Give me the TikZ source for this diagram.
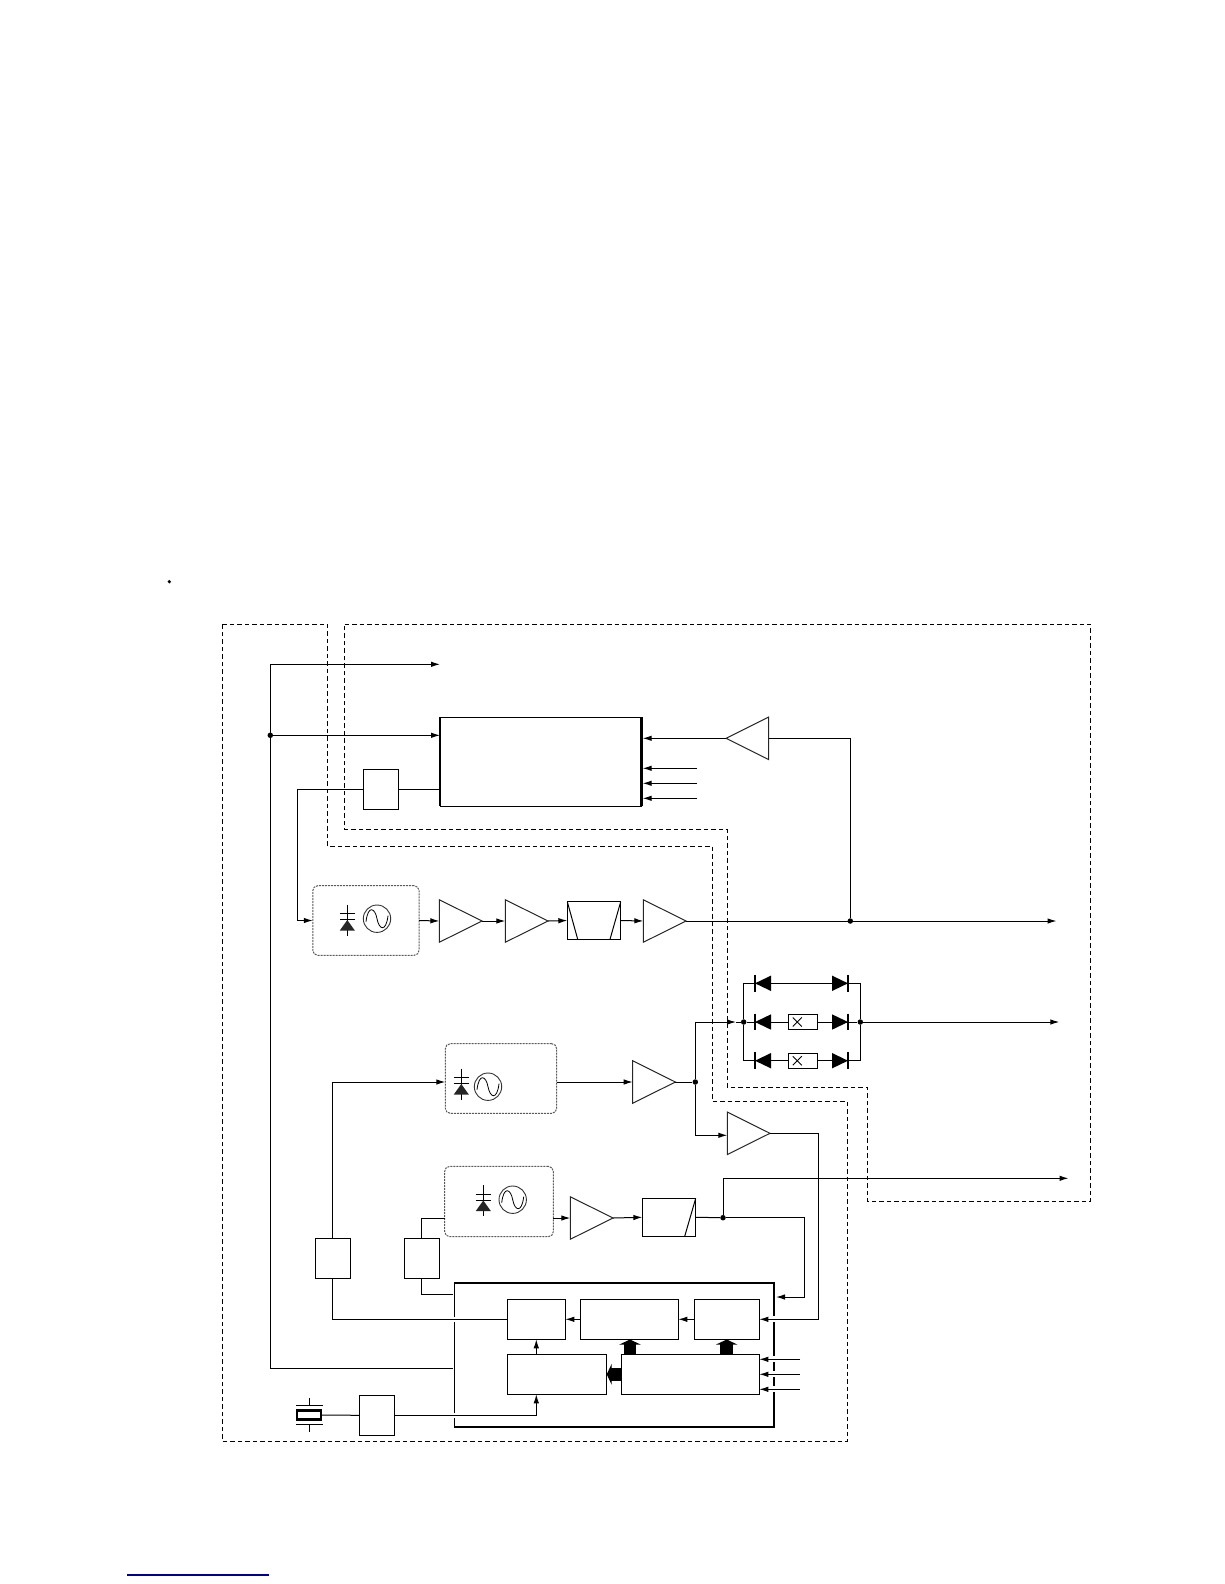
\documentclass[tikz,border=0pt]{standalone}
\usetikzlibrary{arrows.meta,shapes.geometric}

\tikzset{
    wire/.style={line width=1pt},
    sig/.style={wire, -{Latex[length=9pt,width=5.5pt]}},
    padsig/.style={sig, shorten >=1.3pt},
    region/.style={line width=0.9pt, dash pattern=on 4.5pt off 3pt},
    blockbox/.style={draw, line width=1pt, inner sep=0pt, outer sep=0pt},
    vcobox/.style={draw=black!65, line width=1pt, dash pattern=on 2pt off 1pt, rounded corners=5pt, inner sep=0pt, outer sep=0pt},
    ampr/.style={draw=black!85, line width=1pt, shape=isosceles triangle, isosceles triangle apex angle=53,
        isosceles triangle stretches, minimum width=42.5pt, minimum height=42.7pt, inner sep=0pt, outer sep=0pt, anchor=lower side},
    ampl/.style={ampr, shape border rotate=180},
    joint/.style={circle, fill, inner sep=0pt, minimum size=5.5pt},
    fatup/.style={line width=12.5pt, -{Triangle[length=5pt,width=21pt]}},
    varactor/.pic={
        \draw[line width=0.9pt] (0,-15) -- (0,16);
        \draw[line width=0.9pt] (-7.5,-6) -- (7.5,-6);
        \draw[line width=0.9pt] (-7.5,0) -- (7.5,0);
        \fill[black!85] (0,0.5) -- (7.5,11) -- (-7.5,11) -- cycle;
    },
    sinewave/.pic={
        \draw[line width=0.9pt, black!80] (0,0) circle (13.7pt);
        \draw[line width=0.8pt] (-11,3) .. controls (-9,-14) and (-2,-11) .. (0,0) .. controls (2,11) and (9,14) .. (11,-3);
    },
    diodel/.pic={
        \fill (0,0) -- (16,-7.7) -- (16,7.7) -- cycle;
        \draw[line width=1.3pt] (0,-8.3) -- (0,8.3);
    },
    dioder/.pic={
        \fill (0,0) -- (-16,-7.7) -- (-16,7.7) -- cycle;
        \draw[line width=1.3pt] (0,-8.3) -- (0,8.3);
    },
    crossbox/.pic={
        \draw[line width=0.9pt] (-4.5,-4.5) -- (4.5,4.5);
        \draw[line width=0.9pt] (-4.5,4.5) -- (4.5,-4.5);
    },
}

\begin{document}
\begin{tikzpicture}[x=1pt, y=-1pt]
    \useasboundingbox (0,0) rectangle (1224,1584);

    \def\yta{921};
    \def\ydb{1022};
    \def\ydt{983.3};
    \def\yds{1060.7};
    \def\xdl{755};
    \def\xdr{848};

    \fill (169.3,581.7) circle (1.8pt);
    \draw[line width=1.2pt, blue!60!black] (127.3,1575) -- (269,1575);

% shield outlines

    \draw[region] (222.3,624.3) -- (327.7,624.3) -- (327.7,846.3) -- (712.3,846.3) -- (712.3,1101.3)
        -- (847.3,1101.3) -- (847.3,1441.5) -- (222.3,1441.5) -- cycle;
    \draw[region] (344.7,624.3) -- (1090.7,624.3) -- (1090.7,1201.3) -- (867.3,1201.3) -- (867.3,1087.3)
        -- (727.3,1087.3) -- (727.3,829.3) -- (344.7,829.3) -- cycle;

% upper row

    \node[blockbox, minimum width=201.3pt, minimum height=89pt] (pll) at (540.7,761.8) {};
    \draw[line width=2pt] (pll.north west) -- (pll.south west);
    \draw[line width=2.6pt] (pll.north east) -- (pll.south east);
    \node[blockbox, minimum width=35.4pt, minimum height=40pt] (lpf) at (381,789.3) {};
    \node[ampl] (bufl) at (768.7,738.3) {};

    \coordinate (toptap) at (440,664.3);
    \coordinate (trunkend) at (452.7,1368.3);
    \node[joint] (jtrunk) at (270.3,735.3) {};
    \draw[sig] (trunkend) -| (270.3,664.3) -- (toptap);
    \draw[sig] (jtrunk) -- (jtrunk -| pll.west);
    \draw[wire] (lpf.east) -- (pll.west |- lpf.east);

    \coordinate (pina) at (696.7,768.3);
    \coordinate (pinb) at (696.7,783.3);
    \coordinate (pinc) at (696.7,798.3);
    \draw[padsig] (pina) -- (pina -| pll.east);
    \draw[padsig] (pinb) -- (pinb -| pll.east);
    \draw[padsig] (pinc) -- (pinc -| pll.east);

% transmit chain

    \node[vcobox, minimum width=106.3pt, minimum height=69.6pt] (vcoa) at (365.9,920.5) {};
    \pic at (347.3,919.5) {varactor};
    \pic at (377,918.7) {sinewave};
    \node[ampr] (ampa) at (439.3,\yta) {};
    \node[ampr] (ampb) at (505.3,\yta) {};
    \node[blockbox, minimum width=53.4pt, minimum height=37.6pt] (bpf) at (594,920.5) {};
    \draw[wire] (bpf.north west) -- (577.7,939.3);
    \draw[wire] (bpf.north east) -- (610,939.3);
    \node[ampr] (ampc) at (643.3,\yta) {};
    \node[joint] (jtx) at (850.3,\yta) {};
    \coordinate (txout) at (1056.5,\yta);

    \draw[sig] (lpf.west) -- (297.7,789.3) |- (vcoa.west);
    \draw[sig] (vcoa.east) -- (ampa.lower side);
    \draw[sig] (ampa.apex) -- (ampb.lower side);
    \draw[sig] (ampb.apex) -- (bpf.west);
    \draw[sig] (bpf.east) -- (ampc.lower side);
    \draw[sig] (ampc.apex) -- (txout);
    \draw[wire] (jtx) |- (bufl.lower side);
    \draw[padsig] (bufl.apex) -- (pll.east |- bufl.apex);

% switch network

    \node[joint] (jswl) at (743.7,\ydb) {};
    \node[joint] (jswr) at (860.3,\ydb) {};
    \draw[wire] (jswl) |- (\xdl,\ydt) -- (\xdr,\ydt) -| (jswr);
    \draw[wire] (jswl) |- (\xdl,\yds) -- (\xdr,\yds) -| (jswr);
    \draw[wire] (jswl) -- (jswr);
    \node[blockbox, fill=white, minimum width=29pt, minimum height=15.4pt] (swa) at (802.8,\ydb) {};
    \node[blockbox, fill=white, minimum width=29pt, minimum height=15.4pt] (swb) at (802.8,\yds) {};
    \pic at (797.3,\ydb) {crossbox};
    \pic at (797.3,\yds) {crossbox};
    \pic at (\xdl,\ydt) {diodel};
    \pic at (\xdl,\ydb) {diodel};
    \pic at (\xdl,\yds) {diodel};
    \pic at (\xdr,\ydt) {dioder};
    \pic at (\xdr,\ydb) {dioder};
    \pic at (\xdr,\yds) {dioder};
    \coordinate (swout) at (1059.3,\ydb);
    \coordinate (swtap) at (736,\ydb);
    \draw[sig] (jswr) -- (swout);

% receive oscillator

    \node[vcobox, minimum width=111.4pt, minimum height=69.6pt] (vcob) at (501,1078.5) {};
    \pic at (461.3,1083.5) {varactor};
    \pic at (488,1086.7) {sinewave};
    \node[ampr] (ampd) at (632.7,1082) {};
    \node[ampr] (ampe) at (727.3,1133.3) {};
    \node[joint] (jrx) at (695.3,1082) {};
    \coordinate (vcobout) at (556.7,1082);
    \coordinate (ampein) at (727.3,1135.3);

    \draw[sig] (vcobout) -- (ampd.lower side);
    \draw[wire] (ampd.apex) -- (jrx);
    \draw[sig] (jrx) |- (swtap);
    \draw[wire] (swtap) -- (jswl);
    \draw[sig] (jrx) |- (ampein);

% third oscillator

    \node[vcobox, minimum width=108.6pt, minimum height=70.4pt] (vcoc) at (499,1201.5) {};
    \pic at (483.3,1200) {varactor};
    \pic at (512.7,1199.7) {sinewave};
    \node[ampr] (ampf) at (570.3,1218) {};
    \node[blockbox, minimum width=53.4pt, minimum height=38pt] (hpf) at (669,1217.3) {};
    \draw[wire] (hpf.north east) -- (684.7,1236.3);
    \node[joint] (jlo) at (723,1217.7) {};
    \coordinate (vcocin) at (444.7,1218.3);
    \coordinate (vcocout) at (553.3,1218);
    \coordinate (loout) at (1068.5,1178.3);

    \draw[sig] (vcocout) -- (ampf.lower side);
    \draw[sig] (ampf.apex) -- (hpf.west);
    \draw[sig] (jlo) |- (loout);

% loop filters

    \node[blockbox, minimum width=35pt, minimum height=40pt] (lpfa) at (332.8,1258.3) {};
    \node[blockbox, minimum width=35pt, minimum height=40pt] (lpfb) at (421.8,1258.3) {};
    \draw[sig] (lpfa.north) |- (445.3,1082);
    \draw[wire] (lpfb.north) |- (vcocin);

% synthesizer chip

    \node[blockbox, minimum width=319.7pt, minimum height=143.7pt] (chip) at (614.2,1354.9) {};
    \draw[line width=2.2pt] (chip.north west) -- (chip.north east) -- (chip.south east) -- (chip.south west);
    \foreach \yg in {1319.3,1359.3,1374.3,1389.3}
        \draw[white, line width=6pt] (772,\yg) -- (776,\yg);
    \foreach \yg in {1319.3,1415}
        \draw[white, line width=5pt] (452.5,\yg) -- (456.5,\yg);

    \node[blockbox, minimum width=58pt, minimum height=40pt] (cntr) at (536.3,1319.3) {};
    \node[blockbox, minimum width=98pt, minimum height=40pt] (cntn) at (629.3,1319.3) {};
    \node[blockbox, minimum width=65pt, minimum height=40pt] (pres) at (726.8,1319.3) {};
    \node[blockbox, minimum width=99.4pt, minimum height=40pt] (refc) at (557,1374.3) {};
    \node[blockbox, minimum width=138pt, minimum height=40pt] (regs) at (690.3,1374.3) {};

    \draw[sig] (pres.west) -- (cntn.east);
    \draw[sig] (cntn.west) -- (cntr.east);
    \draw[sig] (536.3,1354.3) -- (cntr.south -| 536.3,0);
    \draw[fatup] (630,1354.3) -- (630,1339.5);
    \draw[fatup] (726.7,1354.3) -- (726.7,1339.5);
    \draw[fatup] (regs.west) -- (refc.east);

    \draw[wire] (cntr.west) -| (lpfa.south);
    \draw[wire] (452.7,1294.3) -| (lpfb.south);
    \draw[sig] (ampe.apex) -| (818.3,1319.3) -- (pres.east);
    \draw[wire] (hpf.east) -- (jlo);
    \draw[sig] (jlo) -- (804.3,1217.7) |- (776,1297);

    \coordinate (pind) at (800,1359.3);
    \coordinate (pine) at (800,1374.3);
    \coordinate (pinf) at (800,1389.3);
    \draw[sig] (pind) -- (pind -| regs.east);
    \draw[sig] (pine) -- (pine -| regs.east);
    \draw[sig] (pinf) -- (pinf -| regs.east);

% crystal

    \node[draw, line width=2.2pt, minimum width=24pt, minimum height=9pt, inner sep=0pt, outer sep=0pt] (xtal) at (309.3,1415) {};
    \draw[wire] (296,1405.7) -- (323,1405.7);
    \draw[wire] (296,1424.3) -- (323,1424.3);
    \draw[wire] (309.3,1398.3) -- (309.3,1405.7);
    \draw[wire] (309.3,1424.3) -- (309.3,1431.7);
    \node[blockbox, minimum width=35pt, minimum height=40pt] (oscbuf) at (376.8,1415.3) {};
    \draw[wire] (xtal.east) -- (oscbuf.west);
    \draw[sig] (oscbuf.east) -| (refc.south -| 536.3,0);

\end{tikzpicture}
\end{document}
